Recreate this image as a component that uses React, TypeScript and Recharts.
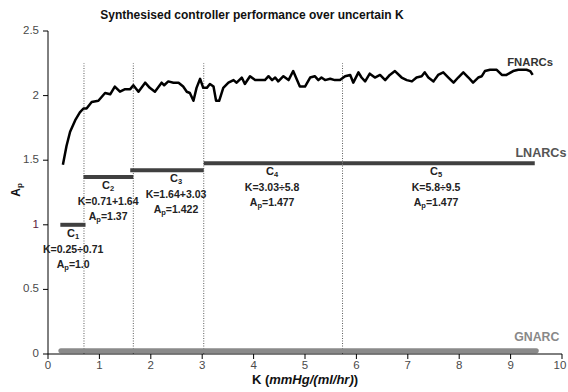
import React from "react";
import {
  Line,
  LineChart,
  ReferenceDot,
  ReferenceLine,
  XAxis,
  YAxis,
} from "recharts";

const FONT = "'Liberation Sans', Arial, Helvetica, sans-serif";

// FNARCs performance curve
const fnarcK = [
  0.29, 0.36, 0.43, 0.53, 0.62, 0.69, 0.75, 0.85, 0.98, 1.11, 1.21, 1.3, 1.4,
  1.5, 1.6, 1.66, 1.76, 1.89, 1.98, 2.08, 2.21, 2.26, 2.34, 2.44, 2.54, 2.63,
  2.7, 2.76, 2.83, 2.89, 2.96, 3.02, 3.09, 3.15, 3.22, 3.27, 3.33, 3.41, 3.51,
  3.61, 3.67, 3.77, 3.83, 3.93, 4.03, 4.12, 4.22, 4.29, 4.36, 4.42, 4.48, 4.58,
  4.68, 4.77, 4.9, 5.0, 5.1, 5.19, 5.26, 5.32, 5.39, 5.49, 5.58, 5.68, 5.78,
  5.88, 5.94, 6.04, 6.1, 6.17, 6.26, 6.36, 6.46, 6.56, 6.65, 6.75, 6.88, 6.98,
  7.08, 7.17, 7.27, 7.33, 7.4, 7.5, 7.59, 7.69, 7.79, 7.89, 7.98, 8.08, 8.18,
  8.27, 8.37, 8.44, 8.5, 8.6, 8.73, 8.83, 8.92, 9.05, 9.15, 9.31, 9.38, 9.43,
];
const fnarcAp = [
  1.465, 1.61, 1.72, 1.81, 1.87, 1.9, 1.9, 1.95, 1.96, 2.02, 2.01, 2.07, 2.03,
  2.05, 2.05, 2.08, 2.03, 2.1, 2.06, 2.03, 2.1, 2.08, 2.11, 2.1, 2.1, 2.07,
  2.03, 2.02, 1.96, 2.06, 2.13, 2.06, 2.06, 2.09, 2.07, 1.96, 1.96, 2.06, 2.1,
  2.12, 2.1, 2.14, 2.09, 2.15, 2.12, 2.12, 2.12, 2.15, 2.12, 2.14, 2.11, 2.15,
  2.12, 2.19, 2.07, 2.07, 2.14, 2.15, 2.12, 2.14, 2.12, 2.13, 2.12, 2.12, 2.15,
  2.16, 2.1, 2.18, 2.14, 2.11, 2.17, 2.14, 2.16, 2.12, 2.16, 2.19, 2.14, 2.12,
  2.11, 2.14, 2.15, 2.18, 2.14, 2.11, 2.16, 2.18, 2.14, 2.1, 2.14, 2.18, 2.14,
  2.1, 2.14, 2.15, 2.19, 2.2, 2.2, 2.16, 2.16, 2.19, 2.2, 2.2, 2.19, 2.16,
];

// GNARC
const gnarcK = [0.25, 9.5];
const gnarcAp = [0.025, 0.025];

// LNARCs: one controller per K range
const ctrlFrom = [0.24, 0.69, 1.6, 3.03, 5.73];
const ctrlTo = [0.73, 1.66, 3.03, 5.73, 9.47];
const ctrlAp = [1.0, 1.37, 1.422, 1.477, 1.477];
const ctrlRange = ["K=0.25÷0.71", "K=0.71+1.64", "K=1.64+3.03", "K=3.03÷5.8", "K=5.8÷9.5"];
const ctrlApText = ["1.0", "1.37", "1.422", "1.477", "1.477"];
const ctrlLabelK = [0.49, 1.17, 2.49, 4.36, 7.55];

const boundaries = [0.7, 1.66, 3.03, 5.73];
const xTicks = [0, 1, 2, 3, 4, 5, 6, 7, 8, 9, 10];
const yTicks = [0, 0.5, 1, 1.5, 2, 2.5];

const fnarcData = fnarcK.map((k, i) => ({ k, a: fnarcAp[i] }));
const gnarcData = gnarcK.map((k, i) => ({ k, a: gnarcAp[i] }));
const ctrlData = ctrlFrom.map((f, i) => [
  { k: f, a: ctrlAp[i] },
  { k: ctrlTo[i], a: ctrlAp[i] },
]);

const textProps = {
  fontFamily: FONT,
  fontWeight: 700,
  textAnchor: "middle" as const,
  dominantBaseline: "middle" as const,
};

function ctrlLabel(i: number) {
  return (props: any) => {
    const vb = props.viewBox || {};
    const x = vb.x ?? 0;
    const y = vb.y ?? 0;
    return (
      <g fill="#222">
        <text {...textProps} x={x} y={y + 9} fontSize={11}>
          C<tspan fontSize={7.5} dy={3}>{i + 1}</tspan>
        </text>
        <text {...textProps} x={x} y={y + 25} fontSize={10.5}>
          {ctrlRange[i]}
        </text>
        <text {...textProps} x={x} y={y + 40} fontSize={10.5}>
          A<tspan fontSize={7.5} dy={3}>p</tspan>
          <tspan dy={-3}>={ctrlApText[i]}</tspan>
        </text>
      </g>
    );
  };
}

function seriesLabel(text: string, size: number, color: string) {
  return (props: any) => {
    const vb = props.viewBox || {};
    return (
      <text {...textProps} x={vb.x} y={vb.y} fontSize={size} fill={color}>
        {text}
      </text>
    );
  };
}

function YTick(props: any) {
  const { x, y, payload } = props;
  return (
    <text
      x={x}
      y={y}
      textAnchor="end"
      dominantBaseline="middle"
      fontFamily={FONT}
      fontSize={11.5}
      fill={payload.value === 1 ? "#5a2040" : "#4a4a4a"}
    >
      {payload.value}
    </text>
  );
}

function XTick(props: any) {
  const { x, y, payload } = props;
  return (
    <text
      x={x}
      y={y + 5}
      textAnchor="middle"
      dominantBaseline="middle"
      fontFamily={FONT}
      fontSize={11.5}
      fill="#4a4a4a"
    >
      {payload.value}
    </text>
  );
}

export default function App() {
  return (
    <div
      style={{
        position: "absolute",
        left: 0,
        top: 0,
        width: 568,
        height: 392,
        background: "#fff",
      }}
    >
      <div
        style={{
          position: "absolute",
          left: 0,
          top: 8,
          width: 504,
          textAlign: "center",
          fontFamily: FONT,
          fontWeight: 700,
          fontSize: 12,
          lineHeight: "14px",
          color: "#111",
        }}
      >
        Synthesised controller performance over uncertain K
      </div>
      <LineChart
        width={568}
        height={392}
        margin={{ top: 31, right: 6, bottom: 8, left: 0 }}
      >
        <XAxis
          dataKey="k"
          type="number"
          domain={[0, 10]}
          ticks={xTicks}
          height={30}
          tickSize={5}
          axisLine={{ stroke: "#000" }}
          tickLine={{ stroke: "#000" }}
          tick={<XTick />}
          label={{
            content: (p: any) => {
              const vb = p.viewBox || {};
              return (
                <text
                  x={vb.x + vb.width / 2}
                  y={vb.y + 27}
                  textAnchor="middle"
                  dominantBaseline="middle"
                  fontFamily={FONT}
                  fontWeight={700}
                  fontSize={13}
                  fill="#111"
                >
                  K (<tspan fontStyle="italic">mmHg/(ml/hr)</tspan>)
                </text>
              );
            },
          }}
        />
        <YAxis
          type="number"
          domain={[0, 2.5]}
          ticks={yTicks}
          width={48}
          tickSize={5}
          tickMargin={4}
          axisLine={{ stroke: "#000" }}
          tickLine={{ stroke: "#000" }}
          tick={<YTick />}
          label={{
            content: () => (
              <text
                x={17}
                y={190}
                transform="rotate(-90, 17, 190)"
                textAnchor="middle"
                dominantBaseline="middle"
                fontFamily={FONT}
                fontWeight={700}
                fontSize={12}
                fill="#111"
              >
                A<tspan fontSize={8} dy={3}>p</tspan>
              </text>
            ),
          }}
        />
        {boundaries.map((b) => (
          <ReferenceLine
            key={b}
            segment={[
              { x: b, y: 0 },
              { x: b, y: 2.25 },
            ]}
            stroke="#333"
            strokeWidth={0.8}
            strokeDasharray="1 1.5"
          />
        ))}
        <Line
          data={gnarcData}
          dataKey="a"
          stroke="#8a8a8a"
          strokeWidth={5}
          strokeLinecap="round"
          dot={false}
          isAnimationActive={false}
        />
        {ctrlData.map((d, i) => (
          <Line
            key={i}
            data={d}
            dataKey="a"
            stroke="#404040"
            strokeWidth={4}
            dot={false}
            isAnimationActive={false}
          />
        ))}
        <Line
          data={fnarcData}
          dataKey="a"
          type="linear"
          stroke="#000"
          strokeWidth={2.5}
          strokeLinejoin="round"
          dot={false}
          isAnimationActive={false}
        />
        {ctrlLabelK.map((k, i) => (
          <ReferenceDot
            key={i}
            x={k}
            y={ctrlAp[i]}
            r={0}
            fill="none"
            stroke="none"
            label={{ content: ctrlLabel(i) }}
          />
        ))}
        <ReferenceDot x={9.38} y={2.256} r={0} fill="none" stroke="none"
          label={{ content: seriesLabel("FNARCs", 11.3, "#333") }} />
        <ReferenceDot x={9.59} y={1.55} r={0} fill="none" stroke="none"
          label={{ content: seriesLabel("LNARCs", 12.6, "#555") }} />
        <ReferenceDot x={9.51} y={0.124} r={0} fill="none" stroke="none"
          label={{ content: seriesLabel("GNARC", 12.3, "#888") }} />
      </LineChart>
    </div>
  );
}
